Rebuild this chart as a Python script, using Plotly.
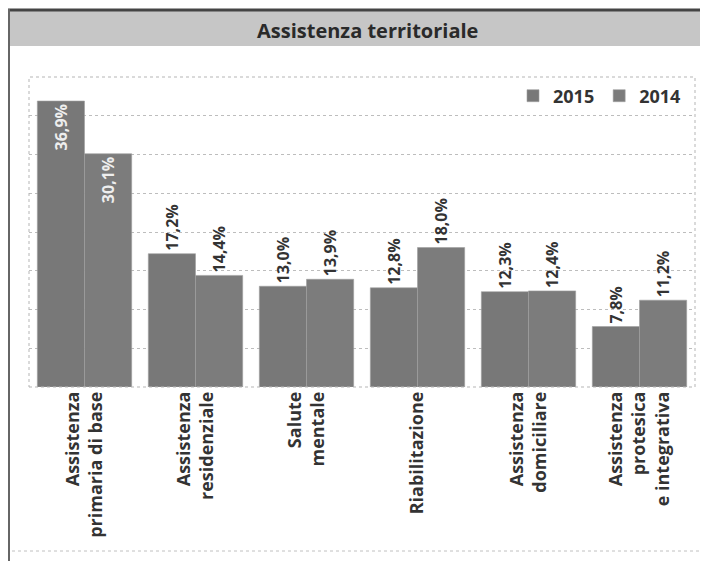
import plotly.graph_objects as go

categorie = ["Assistenza<br>primaria di base", "Assistenza<br>residenziale", "Salute<br>mentale",
             "Riabilitazione", "Assistenza<br>domiciliare", "Assistenza<br>protesica<br>e integrativa"]
valori_2015 = [36.9, 17.2, 13.0, 12.8, 12.3, 7.8]
valori_2014 = [30.1, 14.4, 13.9, 18.0, 12.4, 11.2]

# la pagina html ha un margine di 8px: le coordinate sotto sono quelle della finestra
OFF = 8
W, H = 708 - OFF, 561 - OFF
L, R, T, B = 29, 695, 77, 387  # area del grafico in pixel (finestra)
FONT = "Open Sans"
TESTO = "#333333"


def px(x):
    return (x - L) / (R - L)


def py(y):
    return (B - y) / (B - T)


def etichette(vals):
    return [f"{v:.1f}%".replace(".", ",") for v in vals]


def posizioni(vals):
    return ["inside" if v > 25 else "outside" for v in vals]


fig = go.Figure()
for nome, vals, col in [("2015", valori_2015, "#787878"), ("2014", valori_2014, "#7c7c7c")]:
    fig.add_trace(go.Bar(
        x=categorie, y=vals, name=nome,
        marker=dict(color=col, line=dict(color="#a0a0a0", width=0.6)),
        text=etichette(vals), textposition=posizioni(vals), textangle=-90,
        insidetextanchor="end",
        insidetextfont=dict(color="#eeeeee", size=16, family=FONT, weight="bold"),
        outsidetextfont=dict(color=TESTO, size=16, family=FONT, weight="bold"),
        cliponaxis=False,
    ))

# cornice, banda del titolo e riquadro tratteggiato
fig.add_shape(type="rect", xref="paper", yref="paper", x0=px(8), x1=px(712), y0=py(46), y1=py(9),
              fillcolor="#c6c6c6", line=dict(width=0), layer="below")
fig.add_shape(type="line", xref="paper", yref="paper", x0=px(8), x1=px(712), y0=py(10), y1=py(10),
              line=dict(color="#444444", width=3))
fig.add_shape(type="line", xref="paper", yref="paper", x0=px(9), x1=px(9), y0=py(9), y1=py(565),
              line=dict(color="#666666", width=2))
fig.add_shape(type="rect", xref="paper", yref="paper", x0=0, x1=1, y0=0, y1=1,
              line=dict(color="#b5b5b5", width=1, dash="dot"))
fig.add_shape(type="line", xref="paper", yref="paper", x0=px(12), x1=px(700), y0=py(551), y1=py(551),
              line=dict(color="#c0c0c0", width=1, dash="dot"))

fig.add_annotation(text="<b>Assistenza territoriale</b>", xref="paper", yref="paper",
                   x=px(367), y=py(31), xanchor="center", yanchor="middle", showarrow=False,
                   font=dict(size=20, color="#2a2a2a", family=FONT))

fig.update_layout(
    width=W, height=H,
    margin=dict(l=L - OFF, r=708 - R, t=T - OFF, b=561 - B),
    paper_bgcolor="white", plot_bgcolor="white",
    barmode="group", bargap=0.15, bargroupgap=0,
    font=dict(family=FONT, color=TESTO),
    showlegend=True,
    legend=dict(orientation="h", x=px(686), xanchor="right", y=py(96), yanchor="middle",
                font=dict(size=18, color=TESTO, weight="bold"), bgcolor="rgba(0,0,0,0)",
                itemwidth=30),
    xaxis=dict(tickangle=-90, tickfont=dict(size=18, color=TESTO, weight="bold"),
               showline=False, ticks="", showgrid=False, automargin=False),
    yaxis=dict(range=[0, 40], dtick=5, showticklabels=False, showgrid=True,
               gridcolor="#bdbdbd", griddash="dot", gridwidth=1, zeroline=False, showline=False),
)

fig.write_html("out.html")
